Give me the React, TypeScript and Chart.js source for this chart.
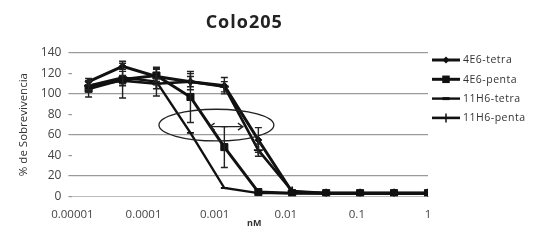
import React, { useEffect, useRef } from "react";
import { Chart, registerables } from "chart.js";

Chart.register(...registerables);

const concentrations = [0.0000169, 0.0000508, 0.000152, 0.000457, 0.00137, 0.00412, 0.0123, 0.037, 0.111, 0.333, 1];

const seriesNames = ["4E6-tetra", "4E6-penta", "11H6-tetra", "11H6-penta"];

const tetra4E6 = [112, 127, 117, 112, 108, 55, 4, 3, 3, 3, 3];
const penta4E6 = [105, 114, 118, 97, 48, 4, 3, 3, 3, 3, 3];
const tetra11H6 = [108, 116, 112, 62, 8, 3, 3, 3, 3, 3, 3];
const penta11H6 = [108, 113, 110, 112, 107, 45, 5, 3, 3, 3, 3];

const errTetra4E6 = [3, 3, 8, 8, 8, 12, 0, 0, 0, 0, 0];
const errPenta4E6 = [8, 18, 6, 25, 20, 0, 0, 0, 0, 0, 0];
const errTetra11H6 = [4, 6, 14, 0, 0, 0, 0, 0, 0, 0, 0];
const errPenta11H6 = [5, 5, 5, 5, 5, 6, 0, 0, 0, 0, 0];

const xTickValues = [0.00001, 0.0001, 0.001, 0.01, 0.1, 1];
const xTickLabels = ["0.00001", "0.0001", "0.001", "0.01", "0.1", "1"];

const yMin = 0;
const yMax = 140;
const yStep = 20;
const yGridValues = [20, 60, 100, 140];

const titleText = "Colo205";
const yTitle = "% de Sobrevivencia";
const xTitle = "nM";

const seriesValues = [tetra4E6, penta4E6, tetra11H6, penta11H6];
const seriesErrors = [errTetra4E6, errPenta4E6, errTetra11H6, errPenta11H6];
const pointStyles = ["rectRot", "rect", "line", "cross"];
const pointRadii = [3.5, 5, 3.5, 4.5];
const lineWidths = [3, 3, 2.4, 2.6];

const FONT = "'Open Sans', 'Liberation Sans', sans-serif";

const errorBarPlugin = {
  id: "errorBars",
  afterDatasetsDraw(chart: any) {
    const ctx = chart.ctx;
    const yScale = chart.scales.y;
    ctx.save();
    ctx.strokeStyle = "#222";
    ctx.lineWidth = 1.4;
    chart.data.datasets.forEach((ds: any, di: number) => {
      const meta = chart.getDatasetMeta(di);
      const errs = seriesErrors[di];
      meta.data.forEach((pt: any, i: number) => {
        const e = errs[i];
        if (!e) return;
        const v = seriesValues[di][i];
        const yTop = yScale.getPixelForValue(v + e);
        const yBot = yScale.getPixelForValue(v - e);
        ctx.beginPath();
        ctx.moveTo(pt.x, yTop);
        ctx.lineTo(pt.x, yBot);
        ctx.moveTo(pt.x - 3.5, yTop);
        ctx.lineTo(pt.x + 3.5, yTop);
        ctx.moveTo(pt.x - 3.5, yBot);
        ctx.lineTo(pt.x + 3.5, yBot);
        ctx.stroke();
      });
    });
    ctx.restore();
  },
};

const annotationPlugin = {
  id: "annot",
  afterDatasetsDraw(chart: any) {
    const ctx = chart.ctx;
    const xs = chart.scales.x;
    const ys = chart.scales.y;
    const left = xs.getPixelForValue(0.000165);
    const right = xs.getPixelForValue(0.0068);
    const top = ys.getPixelForValue(85);
    const bottom = ys.getPixelForValue(54);
    ctx.save();
    ctx.strokeStyle = "#222";
    ctx.lineWidth = 1.3;
    ctx.beginPath();
    ctx.ellipse((left + right) / 2, (top + bottom) / 2, (right - left) / 2, (bottom - top) / 2, 0, 0, Math.PI * 2);
    ctx.stroke();
    const ax1 = xs.getPixelForValue(0.00085);
    const ax2 = xs.getPixelForValue(0.0025);
    const ay = ys.getPixelForValue(68);
    ctx.beginPath();
    ctx.moveTo(ax1, ay);
    ctx.lineTo(ax2, ay);
    ctx.moveTo(ax1 + 5, ay - 3.5);
    ctx.lineTo(ax1, ay);
    ctx.lineTo(ax1 + 5, ay + 3.5);
    ctx.moveTo(ax2 - 5, ay - 3.5);
    ctx.lineTo(ax2, ay);
    ctx.lineTo(ax2 - 5, ay + 3.5);
    ctx.stroke();
    ctx.restore();
  },
};

function drawMarker(ctx: CanvasRenderingContext2D, style: string, r: number, x: number, y: number) {
  ctx.save();
  ctx.fillStyle = "#111";
  ctx.strokeStyle = "#111";
  ctx.lineWidth = 1.5;
  ctx.beginPath();
  if (style === "rect") {
    ctx.fillRect(x - r * 0.75, y - r * 0.75, r * 1.5, r * 1.5);
  } else if (style === "rectRot") {
    ctx.moveTo(x, y - r);
    ctx.lineTo(x + r, y);
    ctx.lineTo(x, y + r);
    ctx.lineTo(x - r, y);
    ctx.closePath();
    ctx.fill();
  } else if (style === "line") {
    ctx.moveTo(x - r, y);
    ctx.lineTo(x + r, y);
    ctx.lineWidth = 3;
    ctx.stroke();
  } else if (style === "cross") {
    ctx.moveTo(x, y - r);
    ctx.lineTo(x, y + r);
    ctx.moveTo(x - r, y);
    ctx.lineTo(x + r, y);
    ctx.stroke();
  }
  ctx.restore();
}

const titleLegendPlugin = {
  id: "titleLegend",
  afterDraw(chart: any) {
    const ctx = chart.ctx;
    const area = chart.chartArea;
    ctx.save();
    ctx.fillStyle = "#222";
    ctx.font = `bold 18px ${FONT}`;
    (ctx as any).letterSpacing = "1px";
    ctx.textAlign = "center";
    ctx.textBaseline = "middle";
    ctx.fillText(titleText, (area.left + area.right) / 2 - 6, 23);

    (ctx as any).letterSpacing = "0px";
    ctx.font = `bold 9px ${FONT}`;
    ctx.fillStyle = "#333";
    ctx.fillText(xTitle, (area.left + area.right) / 2 + 4, area.bottom + 27);

    (ctx as any).letterSpacing = "0.5px";
    ctx.font = `10.5px ${FONT}`;
    ctx.textAlign = "left";
    chart.data.datasets.forEach((ds: any, i: number) => {
      const y = area.top + 7 + i * 19.3;
      const x0 = area.right + 4;
      const x1 = area.right + 32;
      ctx.strokeStyle = "#111";
      ctx.lineWidth = lineWidths[i];
      ctx.beginPath();
      ctx.moveTo(x0, y);
      ctx.lineTo(x1, y);
      ctx.stroke();
      drawMarker(ctx, pointStyles[i], pointRadii[i], (x0 + x1) / 2, y);
      ctx.fillStyle = "#333";
      ctx.fillText(seriesNames[i], x1 + 3, y + 0.5);
    });
    ctx.restore();
  },
};

export default function App() {
  const canvasRef = useRef<HTMLCanvasElement | null>(null);

  useEffect(() => {
    document.body.style.margin = "0";
    const canvas = canvasRef.current;
    if (!canvas) return;
    const chart = new Chart(canvas, {
      type: "line",
      data: {
        datasets: seriesNames.map((name, i) => ({
          label: name,
          data: concentrations.map((c, j) => ({ x: c, y: seriesValues[i][j] })),
          borderColor: "#111",
          backgroundColor: "#111",
          borderWidth: lineWidths[i],
          pointStyle: pointStyles[i] as any,
          pointRadius: pointRadii[i],
          pointBorderWidth: pointStyles[i] === "cross" || pointStyles[i] === "line" ? 1.8 : 1,
          pointBackgroundColor: "#111",
          pointBorderColor: "#111",
          tension: 0,
          fill: false,
        })),
      },
      options: {
        responsive: false,
        animation: false,
        layout: { padding: { left: 17, right: 106, top: 53, bottom: 22 } },
        plugins: {
          legend: { display: false },
          title: { display: false },
          tooltip: { enabled: false },
        },
        scales: {
          x: {
            type: "logarithmic",
            min: xTickValues[0],
            max: xTickValues[xTickValues.length - 1],
            afterBuildTicks: (axis: any) => {
              axis.ticks = xTickValues.map((v) => ({ value: v }));
            },
            grid: { display: false },
            border: { display: true, color: "#bbb", dash: [2, 3], width: 1 },
            ticks: {
              autoSkip: false,
              maxRotation: 0,
              padding: 4,
              color: "#444",
              font: { family: FONT, size: 11.5 },
              callback: (_v: any, index: number) => xTickLabels[index],
            },
          },
          y: {
            min: yMin,
            max: yMax,
            ticks: {
              stepSize: yStep,
              padding: 7,
              color: "#444",
              font: { family: FONT, size: 12 },
            },
            grid: {
              color: (c: any) => (yGridValues.includes(c.tick?.value) ? "#9a9a9a" : "rgba(0,0,0,0)"),
              tickColor: "#999",
              tickLength: 4,
              lineWidth: 1.2,
            },
            border: { display: false },
            title: {
              display: true,
              text: yTitle,
              color: "#333",
              font: { family: FONT, size: 11.5 },
              padding: { top: 0, bottom: 3 },
            },
          },
        },
      },
      plugins: [errorBarPlugin, annotationPlugin, titleLegendPlugin],
    } as any);
    return () => chart.destroy();
  }, []);

  return (
    <div style={{ position: "absolute", left: 0, top: 0, width: 534, height: 248, background: "#fff" }}>
      <canvas ref={canvasRef} width={534} height={248} style={{ display: "block" }} />
    </div>
  );
}
